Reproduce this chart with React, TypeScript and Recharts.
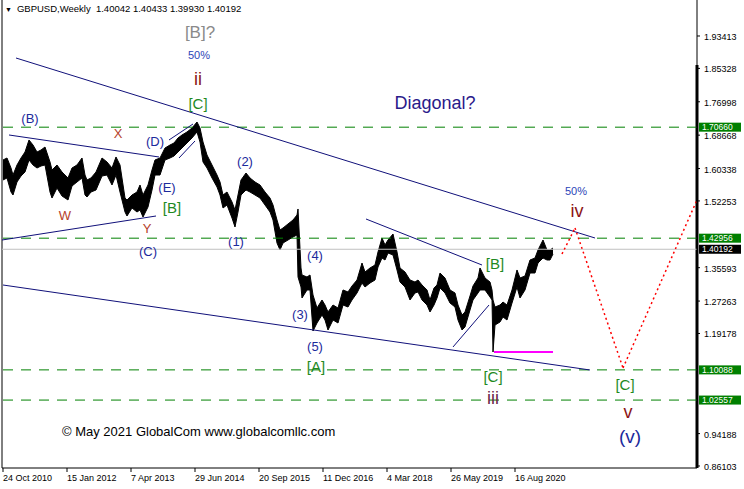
import {
  Area,
  ComposedChart,
  ReferenceDot,
  ReferenceLine,
  XAxis,
  YAxis,
} from "recharts";

// weeks counted from 24 Oct 2010, weekly high / low envelope
const weeks = [
  0, 4, 8, 10, 14, 18, 22, 26, 30, 34, 38, 42, 47, 49, 54, 59, 65, 69, 74, 79,
  82, 84, 88, 93, 99, 104, 109, 113, 117, 122, 124, 129, 134, 137, 140, 145,
  149, 152, 157, 162, 167, 171, 175, 179, 184, 189, 194, 197, 200, 204, 209,
  214, 217, 220, 224, 229, 232, 235, 238, 243, 247, 252, 257, 262, 267, 270,
  274, 277, 280, 285, 290, 294, 295, 298, 299, 304, 307, 310, 314, 319, 322,
  325, 330, 335, 340, 345, 349, 354, 359, 362, 367, 372, 375, 379, 382, 385,
  390, 394, 397, 402, 407, 412, 415, 419, 424, 427, 431, 434, 437, 442, 447,
  452, 455, 459, 462, 467, 470, 475, 477, 482, 487, 489, 490, 492, 497, 500,
  504, 509, 514, 517, 522, 527, 532, 535, 540, 544, 547, 550,
];

const highs = [
  1.6247, 1.6297, 1.6047, 1.5872, 1.6122, 1.6297, 1.6446, 1.6746, 1.6621,
  1.6446, 1.6496, 1.6571, 1.6197, 1.5997, 1.6122, 1.5947, 1.5798, 1.6047,
  1.6122, 1.6297, 1.5872, 1.5748, 1.5798, 1.5947, 1.6297, 1.6197, 1.6047,
  1.6322, 1.6122, 1.5298, 1.5249, 1.5373, 1.5448, 1.5623, 1.5373, 1.5623,
  1.5997, 1.6247, 1.6297, 1.6546, 1.6621, 1.6671, 1.6796, 1.6871, 1.6946,
  1.7045, 1.7195, 1.7045, 1.6696, 1.6371, 1.6122, 1.5872, 1.5698, 1.5373,
  1.5448, 1.5199, 1.4999, 1.5373, 1.5748, 1.5922, 1.5798, 1.5698, 1.5623,
  1.5448, 1.5298, 1.5124, 1.4749, 1.45, 1.455, 1.465, 1.4749, 1.4874, 1.5024,
  1.3552, 1.3377, 1.3327, 1.3377, 1.2878, 1.2553, 1.2753, 1.2628, 1.2454,
  1.2628, 1.2553, 1.3003, 1.2953, 1.3103, 1.3252, 1.3676, 1.3452, 1.3552,
  1.3626, 1.3951, 1.43, 1.4126, 1.425, 1.44, 1.3951, 1.3552, 1.3452, 1.3252,
  1.3202, 1.3252, 1.3128, 1.3003, 1.2753, 1.3053, 1.3128, 1.3427, 1.3302,
  1.3003, 1.2928, 1.2628, 1.2379, 1.2454, 1.2853, 1.3103, 1.3302, 1.3552,
  1.3302, 1.3202, 1.3003, 1.2753, 1.2578, 1.2628, 1.2703, 1.2628, 1.3003,
  1.3502, 1.3302, 1.3352, 1.3751, 1.3801, 1.4001, 1.425, 1.4001, 1.4001,
  1.4051,
];

const lows = [
  1.5748, 1.5798, 1.5448, 1.5373, 1.5698, 1.5847, 1.5947, 1.6247, 1.6122,
  1.6047, 1.6097, 1.6122, 1.5448, 1.5298, 1.5548, 1.5348, 1.5249, 1.5598,
  1.5698, 1.5798, 1.5373, 1.5323, 1.5448, 1.5498, 1.5847, 1.5872, 1.5623,
  1.5872, 1.5448, 1.4949, 1.4849, 1.5049, 1.4949, 1.4999, 1.4824, 1.5074,
  1.5498, 1.5872, 1.5872, 1.6247, 1.6297, 1.6346, 1.6446, 1.6546, 1.6671,
  1.6796, 1.6946, 1.6696, 1.6197, 1.6047, 1.5798, 1.5573, 1.5373, 1.5049,
  1.5124, 1.4799, 1.4575, 1.4949, 1.5373, 1.5498, 1.5448, 1.5373, 1.5298,
  1.5124, 1.4949, 1.4749, 1.4175, 1.4001, 1.4175, 1.425, 1.4325, 1.4375,
  1.3327, 1.3078, 1.2803, 1.3003, 1.3003, 1.1979, 1.2179, 1.2379, 1.2254,
  1.2004, 1.2254, 1.2179, 1.2628, 1.2578, 1.2753, 1.2928, 1.3177, 1.3078,
  1.3177, 1.3252, 1.3577, 1.3801, 1.3751, 1.3926, 1.3876, 1.3502, 1.3202,
  1.3078, 1.2753, 1.2928, 1.2953, 1.2753, 1.2628, 1.2454, 1.2628, 1.2803,
  1.3053, 1.2928, 1.2678, 1.2578, 1.2254, 1.2004, 1.2079, 1.2504, 1.2753,
  1.2928, 1.3003, 1.3003, 1.2828, 1.2753, 1.1455, 1.2128, 1.2204, 1.2329,
  1.2254, 1.2678, 1.3078, 1.2803, 1.3003, 1.3427, 1.3427, 1.3676, 1.3801,
  1.3751, 1.3751, 1.3901,
];

const dateTicks = [0, 64, 128, 192, 256, 320, 384, 448, 512];
const dateLabels = [
  "24 Oct 2010",
  "15 Jan 2012",
  "7 Apr 2013",
  "29 Jun 2014",
  "20 Sep 2015",
  "11 Dec 2016",
  "4 Mar 2018",
  "26 May 2019",
  "16 Aug 2020",
];

const priceTicks = [
  1.93413, 1.85328, 1.76998, 1.68668, 1.60338, 1.52253, 1.35593, 1.27263,
  1.19178, 0.94188, 0.86103,
];

const levels = [1.7066, 1.42956, 1.10088, 1.02557];
const lastClose = 1.40192;

// wave marks: text, week, price, kind
const waveMarks: [string, number, number, string][] = [
  ["[B]?", 197, 1.9441, "gray"],
  ["50%", 196, 1.8867, "pct"],
  ["ii", 195, 1.8268, "roman"],
  ["[C]", 195, 1.7669, "green"],
  ["Diagonal?", 432, 1.7669, "diag"],
  ["(B)", 27, 1.727, "navy"],
  ["X", 115, 1.6896, "wxy"],
  ["(D)", 152, 1.6696, "navy"],
  ["(2)", 242, 1.6197, "navy"],
  ["(E)", 164, 1.5548, "navy"],
  ["[B]", 169, 1.5049, "green"],
  ["W", 62, 1.4874, "wxy"],
  ["Y", 144, 1.4525, "wxy"],
  ["(1)", 233, 1.4225, "navy"],
  ["(C)", 145, 1.3951, "navy"],
  ["(4)", 312, 1.3851, "navy"],
  ["(3)", 297, 1.2403, "navy"],
  ["(5)", 312, 1.158, "navy"],
  ["[A]", 313, 1.1081, "green"],
  ["[B]", 492, 1.3676, "green"],
  ["[C]", 490, 1.0856, "green"],
  ["iii", 490, 1.0307, "iii"],
  ["50%", 573, 1.5473, "pct"],
  ["iv", 574, 1.4974, "roman"],
  ["[C]", 622, 1.0632, "green"],
  ["v", 625, 0.9958, "roman"],
  ["(v)", 627, 0.9334, "big"],
];

// trend lines: [week1, price1, week2, price2]
const trendLines: [number, number, number, number][] = [
  [13, 1.8792, 592, 1.43],
  [0, 1.3127, 587, 1.1006],
  [6, 1.6871, 156, 1.6322],
  [-1, 1.425, 153, 1.4849],
  [166, 1.6746, 190, 1.7145],
  [176, 1.6297, 192, 1.6721],
  [363, 1.4774, 479, 1.3626],
  [450, 1.158, 486, 1.2628],
];

const lowMark: [number, number, number] = [491, 550, 1.1455];

const projWeeks = [559, 572, 620, 694];
const projPrices = [1.3901, 1.455, 1.1056, 1.525];

const rows = weeks.map((w, i) => ({ w, hi: highs[i], lo: lows[i] }));

const FONT = "'Liberation Sans', Arial, sans-serif";

const markStyle: Record<string, { color: string; size: number }> = {
  gray: { color: "#8a8a8a", size: 17 },
  pct: { color: "#2b45b8", size: 11 },
  roman: { color: "#8b1414", size: 18 },
  iii: { color: "#6e1f4a", size: 18 },
  green: { color: "#1f8a1f", size: 15 },
  diag: { color: "#2a1a8a", size: 18 },
  navy: { color: "#1c2a9c", size: 13 },
  wxy: { color: "#b5412a", size: 13 },
  big: { color: "#1c2a9c", size: 19 },
};

function PriceTick({ x, y, payload }: any) {
  return (
    <text
      x={x}
      y={y}
      dy={4}
      textAnchor="start"
      fontSize={9}
      fontFamily={FONT}
      fill="#000"
    >
      {Number(payload.value).toFixed(5)}
    </text>
  );
}

function DateTick({ x, y, payload, index }: any) {
  return (
    <text
      x={x}
      y={y}
      dy={9}
      textAnchor="start"
      fontSize={9}
      fontFamily={FONT}
      fill="#000"
    >
      {dateLabels[index] ?? String(payload.value)}
    </text>
  );
}

function LevelTag({ viewBox, value, bg }: any) {
  const x = viewBox.x + viewBox.width + 2;
  const y = viewBox.y;
  return (
    <g>
      <rect x={x} y={y - 4.5} width={42} height={9} fill={bg} />
      <text
        x={x + 3}
        y={y}
        dy={3}
        fontSize={8.5}
        fontFamily={FONT}
        fill="#fff"
      >
        {value.toFixed(5)}
      </text>
    </g>
  );
}

function MarkText({ cx, cy, text, kind }: any) {
  const s = markStyle[kind];
  return (
    <text
      x={cx}
      y={cy}
      textAnchor="middle"
      dominantBaseline="central"
      fontSize={s.size}
      fontFamily={FONT}
      fill={s.color}
    >
      {text}
    </text>
  );
}

export default function App() {
  return (
    <div
      style={{
        position: "absolute",
        left: 0,
        top: 0,
        width: 744,
        height: 489,
        background: "#fff",
      }}
    >
      <ComposedChart
        width={744}
        height={489}
        data={rows}
        margin={{ top: 0, right: 0, bottom: 0, left: 2 }}
      >
        <XAxis
          type="number"
          dataKey="w"
          domain={[-1, 694]}
          allowDataOverflow
          ticks={dateTicks}
          interval={0}
          height={21}
          tickSize={4}
          tickMargin={0}
          stroke="#000"
          tick={<DateTick />}
        />
        <YAxis
          type="number"
          orientation="right"
          domain={[0.85603, 2.02397]}
          allowDataOverflow
          ticks={priceTicks}
          interval={0}
          width={47}
          tickSize={3}
          tickMargin={4}
          stroke="#000"
          tick={<PriceTick />}
        />
        <ReferenceLine
          segment={[
            { x: 694, y: 0.85603 },
            { x: 694, y: 1.862 },
          ]}
          stroke="#000"
          strokeWidth={3}
          ifOverflow="visible"
        />
        <ReferenceLine x={-1} stroke="#000" ifOverflow="visible" />
        <ReferenceLine
          y={lastClose}
          stroke="#c0c0c0"
          label={<LevelTag value={lastClose} bg="#000" />}
        />
        {levels.map((lv) => (
          <ReferenceLine
            key={lv}
            y={lv}
            stroke="#008000"
            strokeDasharray="10 8"
            label={<LevelTag value={lv} bg="#008000" />}
          />
        ))}
        {trendLines.map((t, i) => (
          <ReferenceLine
            key={"t" + i}
            segment={[
              { x: t[0], y: t[1] },
              { x: t[2], y: t[3] },
            ]}
            stroke="#10107a"
            strokeWidth={1}
            ifOverflow="visible"
          />
        ))}
        <ReferenceLine
          segment={[
            { x: lowMark[0], y: lowMark[2] },
            { x: lowMark[1], y: lowMark[2] },
          ]}
          stroke="#ff00ff"
          strokeWidth={2}
        />
        {projWeeks.slice(1).map((w, i) => (
          <ReferenceLine
            key={"p" + i}
            segment={[
              { x: projWeeks[i], y: projPrices[i] },
              { x: w, y: projPrices[i + 1] },
            ]}
            stroke="#ff0000"
            strokeWidth={1.5}
            strokeDasharray="2 3"
            ifOverflow="visible"
          />
        ))}
        <Area
          type="linear"
          dataKey={(d: any) => [d.lo, d.hi]}
          stroke="#000"
          strokeWidth={1}
          fill="#000"
          fillOpacity={1}
          dot={false}
          activeDot={false}
          isAnimationActive={false}
        />
        {waveMarks.map((m, i) => (
          <ReferenceDot
            key={"m" + i}
            x={m[1]}
            y={m[2]}
            r={0}
            ifOverflow="visible"
            shape={(p: any) => (
              <MarkText cx={p.cx} cy={p.cy} text={m[0]} kind={m[3]} />
            )}
          />
        ))}
      </ComposedChart>
      <div
        style={{
          position: "absolute",
          left: 5,
          top: 3,
          fontFamily: FONT,
          fontSize: 9.5,
          color: "#000",
          whiteSpace: "nowrap",
        }}
      >
        <span style={{ fontSize: 7, marginRight: 5 }}>▼</span>
        GBPUSD,Weekly&nbsp; 1.40042 1.40433 1.39930 1.40192
      </div>
      <div
        style={{
          position: "absolute",
          left: 62,
          top: 424,
          fontFamily: FONT,
          fontSize: 13,
          color: "#000",
          whiteSpace: "nowrap",
        }}
      >
        © May 2021 GlobalCom www.globalcomllc.com
      </div>
    </div>
  );
}
